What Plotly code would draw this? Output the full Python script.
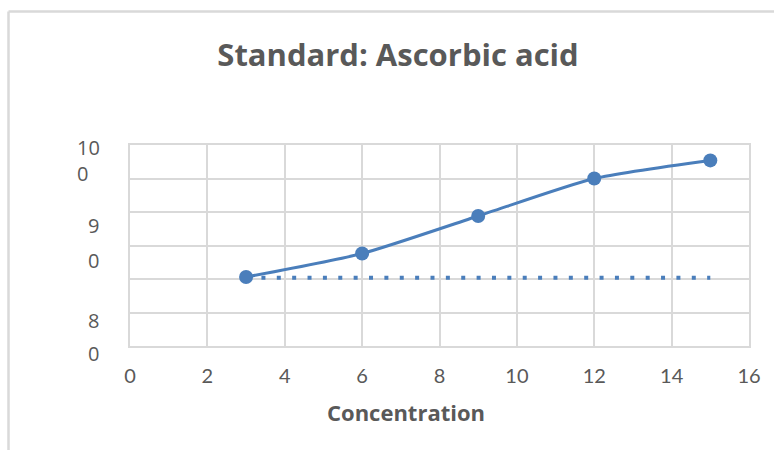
import plotly.graph_objects as go

# Standard curve: ascorbic acid
concentration = [3, 6, 9, 12, 15]
response = [80.3, 83.8, 89.4, 95.0, 97.7]
baseline_x = [3, 15]
baseline_y = [80.2, 80.2]

x_ticks = [0, 2, 4, 6, 8, 10, 12, 14, 16]
y_tick_labels = ["100", "90", "80"]
x_title = "Concentration"

W, H = 774, 450
L, R, T, B = 130, 749, 145, 346  # plot area in pixels

BLUE = "#4a7ebb"
GRID = "#d9d9d9"
TEXT = "#595959"


def px(x):
    return (x - L) / (R - L)


def py(y):
    return (B - y) / (B - T)


fig = go.Figure()
fig.add_trace(go.Scatter(
    x=baseline_x, y=baseline_y, mode="lines",
    line=dict(color=BLUE, width=4, dash="4px,11.37px"),
    hoverinfo="skip", showlegend=False,
))
fig.add_trace(go.Scatter(
    x=concentration, y=response, mode="lines+markers",
    line=dict(color=BLUE, width=3, shape="spline", smoothing=0.6),
    marker=dict(color=BLUE, size=14),
    showlegend=False,
))

# wrapped value-axis labels
ylab_font = dict(family="Open Sans", size=20, color=TEXT)
anns = []
# three-digit label wraps tightly into one block
top = y_tick_labels[0]
anns.append(dict(text=top[:-1] + "<br>" + top[-1], x=px(102), y=py(160),
                 xref="paper", yref="paper", xanchor="right", yanchor="middle",
                 align="left", showarrow=False, font=ylab_font))
# two-digit labels break with a wider gap
for lab, (ya, yb) in zip(y_tick_labels[1:], [(225, 260), (320, 353)]):
    for part, yy in ((lab[0], ya), (lab[1], yb)):
        anns.append(dict(text=part, x=px(101), y=py(yy), xref="paper",
                         yref="paper", xanchor="right", yanchor="middle",
                         showarrow=False, font=ylab_font))

# category-axis title
anns.append(dict(text="<b>" + x_title + "</b>", x=px(406), y=py(412),
                 xref="paper", yref="paper", xanchor="center", yanchor="middle",
                 showarrow=False,
                 font=dict(family="Open Sans", size=22, color=TEXT)))

fig.update_layout(
    width=W, height=H,
    margin=dict(l=L, r=W - R, t=T, b=H - B),
    paper_bgcolor="white", plot_bgcolor="white",
    title=dict(text="<b>Standard: Ascorbic acid</b>", x=px(398), xref="paper",
               y=1 - 55 / H, yref="container", xanchor="center", yanchor="middle",
               font=dict(family="Open Sans", size=31, color=TEXT)),
    xaxis=dict(range=[0, 16], tickvals=x_ticks, showgrid=True, gridcolor=GRID,
               gridwidth=1.5, zeroline=False, showline=True, linecolor=GRID,
               linewidth=2, mirror=True, ticks="", ticklabelstandoff=11,
               tickfont=dict(family="Lato", size=20, color=TEXT)),
    yaxis=dict(range=[70, 100], dtick=5, showgrid=True, gridcolor=GRID,
               gridwidth=1.5, zeroline=False, showline=True, linecolor=GRID,
               linewidth=2, mirror=True, showticklabels=False, ticks=""),
    annotations=anns,
    shapes=[
        dict(type="line", xref="paper", yref="paper", x0=px(8.5), x1=px(W + 5),
             y0=py(11.5), y1=py(11.5), line=dict(color=GRID, width=2.5)),
        dict(type="line", xref="paper", yref="paper", x0=px(8.5), x1=px(8.5),
             y0=py(11.5), y1=py(H + 5), line=dict(color=GRID, width=2.5)),
    ],
)

fig.write_html("out.html")
